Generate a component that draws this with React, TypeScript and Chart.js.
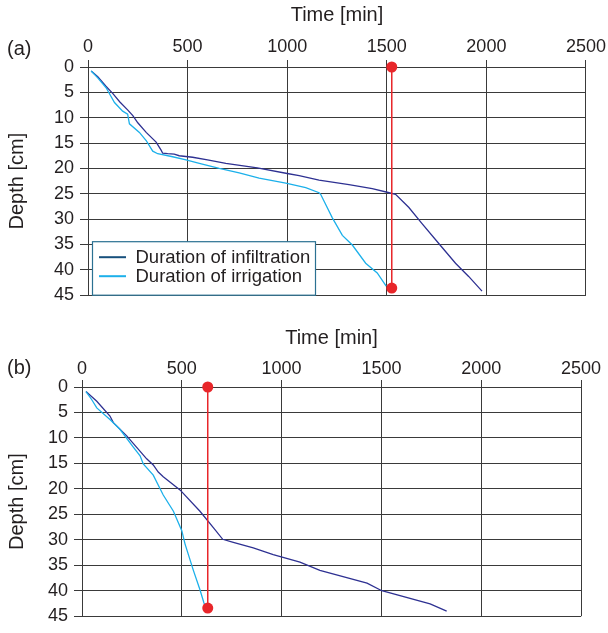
import React, { useEffect, useRef } from 'react';
import { Chart, registerables } from 'chart.js';

Chart.register(...registerables);

const FONT = "'Liberation Sans', Arial, Helvetica, sans-serif";
const TEXT = '#231f20';
const GRID = '#3a3a3a';
const C_INFIL = '#2e3192';
const C_IRRIG = '#1cb0ea';
const C_LEG_INFIL = '#17507c';
const C_RED = '#e8262a';

const X_MIN = 0;
const X_MAX = 2500;
const X_STEP = 500;
const Y_MIN = 0;
const Y_MAX = 45;
const Y_STEP = 5;

const seriesNames = ['Duration of infiltration', 'Duration of irrigation'];

// Panel (a)
const aInfilTime = [16, 49, 90, 124, 160, 200, 225, 250, 292, 342, 367, 375, 400, 433, 458, 525, 600, 692, 850, 1000, 1060, 1160, 1310, 1427, 1502, 1544, 1611, 1677, 1761, 1845, 1911, 1978];
const aInfilDepth = [0.8, 1.9, 3.8, 5.2, 6.9, 8.5, 9.6, 11, 12.9, 14.8, 16.4, 17, 17.1, 17.2, 17.5, 17.8, 18.3, 19, 19.9, 21.0, 21.4, 22.3, 23.2, 24, 24.7, 25.1, 27.7, 30.9, 34.8, 38.7, 41.3, 44.2];
const aIrrigTime = [16, 50, 91, 133, 174, 199, 208, 258, 292, 325, 350, 425, 492, 559, 659, 759, 859, 993, 1093, 1160, 1168, 1226, 1277, 1327, 1394, 1452, 1497];
const aIrrigDepth = [0.8, 2.2, 4.1, 7, 8.7, 9.3, 11.2, 12.9, 14.5, 16.6, 17.1, 17.7, 18.3, 19, 20, 20.9, 21.9, 22.9, 23.8, 24.8, 25.1, 29.7, 33.2, 35.1, 38.7, 40.6, 43.2];
const aMarkerTime = 1525;
const aMarkerDepths = [0, 43.6];

// Panel (b)
const bInfilTime = [20, 74, 140, 157, 224, 324, 357, 382, 407, 491, 591, 658, 705, 758, 858, 958, 1092, 1192, 1428, 1502, 1744, 1827];
const bInfilDepth = [0.9, 2.8, 5.7, 7, 9.6, 14.1, 15.3, 16.7, 17.6, 20.2, 24.4, 27.6, 29.9, 30.5, 31.6, 32.9, 34.4, 36.0, 38.5, 40, 42.6, 44];
const bIrrigTime = [20, 49, 74, 140, 190, 257, 291, 307, 357, 407, 458, 500, 516, 558, 591, 611, 624];
const bIrrigDepth = [0.9, 2.5, 4.1, 6.4, 8.3, 11.8, 13.5, 15.1, 17.3, 21.2, 24.4, 28.2, 30.8, 36, 39.8, 42.4, 43.4];
const bMarkerTime = 630;
const bMarkerDepths = [0, 43.4];

const zip = (xs: number[], ys: number[]) => xs.map((x, i) => ({ x, y: ys[i] }));

const panelLabelPlugin = {
  id: 'panelLabel',
  afterDraw(chart: any, _args: any, opts: any) {
    const ctx = chart.ctx;
    ctx.save();
    ctx.font = `20px ${FONT}`;
    ctx.fillStyle = TEXT;
    ctx.textAlign = 'left';
    ctx.textBaseline = 'middle';
    ctx.fillText(opts.text, opts.x, opts.y);
    ctx.restore();
  },
};

const boxLegendPlugin = {
  id: 'boxLegend',
  afterDraw(chart: any, _args: any, opts: any) {
    if (!opts.show) return;
    const ctx = chart.ctx;
    const area = chart.chartArea;
    const left = area.left + 4.5;
    const right = left + 223;
    const bottom = area.bottom;
    const top = bottom - 53.5;
    ctx.save();
    ctx.fillStyle = '#ffffff';
    ctx.fillRect(left, top, right - left, bottom - top);
    ctx.strokeStyle = '#2b7192';
    ctx.lineWidth = 1.2;
    ctx.strokeRect(left, top, right - left, bottom - top);
    const colors = [C_LEG_INFIL, C_IRRIG];
    const rows = [top + 15.5, top + 34.5];
    ctx.font = `18.5px ${FONT}`;
    ctx.textAlign = 'left';
    ctx.textBaseline = 'middle';
    seriesNames.forEach((name, i) => {
      ctx.strokeStyle = colors[i];
      ctx.lineWidth = 2;
      ctx.beginPath();
      ctx.moveTo(left + 6.5, rows[i]);
      ctx.lineTo(left + 33.5, rows[i]);
      ctx.stroke();
      ctx.fillStyle = TEXT;
      ctx.fillText(name, left + 43, rows[i] + 0.5);
    });
    ctx.restore();
  },
};

type PanelProps = {
  label: string;
  infilT: number[];
  infilD: number[];
  irrigT: number[];
  irrigD: number[];
  markerT: number;
  markerD: number[];
  legend: boolean;
  top: number;
  height: number;
  axisWidth: number;
  axisHeight: number;
  padRight: number;
  padBottom: number;
  labelY: number;
  titlePad: number;
  tickPad: number;
};

function Panel(p: PanelProps) {
  const ref = useRef<HTMLCanvasElement | null>(null);
  useEffect(() => {
    if (!ref.current) return;
    const chart = new Chart(ref.current, {
      type: 'scatter',
      data: {
        datasets: [
          {
            label: 'marker',
            data: p.markerD.map((d) => ({ x: p.markerT, y: d })),
            showLine: true,
            borderColor: C_RED,
            borderWidth: 1.5,
            pointRadius: 5.5,
            pointBackgroundColor: C_RED,
            pointBorderWidth: 0,
            clip: false,
            order: 0,
          },
          {
            label: seriesNames[0],
            data: zip(p.infilT, p.infilD),
            showLine: true,
            borderColor: C_INFIL,
            borderWidth: 1.3,
            pointRadius: 0,
            tension: 0,
            order: 2,
          },
          {
            label: seriesNames[1],
            data: zip(p.irrigT, p.irrigD),
            showLine: true,
            borderColor: C_IRRIG,
            borderWidth: 1.3,
            pointRadius: 0,
            tension: 0,
            order: 1,
          },
        ] as any,
      },
      options: {
        animation: false,
        responsive: false,
        maintainAspectRatio: false,
        events: [],
        layout: { padding: { left: 0, top: 0, right: p.padRight, bottom: p.padBottom } },
        plugins: {
          legend: { display: false },
          tooltip: { enabled: false },
          panelLabel: { text: p.label, x: 7, y: p.labelY },
          boxLegend: { show: p.legend },
        } as any,
        scales: {
          x: {
            type: 'linear',
            position: 'top',
            min: X_MIN,
            max: X_MAX,
            afterFit: (s: any) => {
              s.height = p.axisHeight;
            },
            ticks: {
              stepSize: X_STEP,
              color: TEXT,
              font: { family: FONT, size: 18 },
              padding: p.tickPad,
              maxRotation: 0,
              callback: (v: any) => String(v),
            },
            grid: { color: GRID, lineWidth: 1, tickLength: 7, drawTicks: true },
            border: { display: true, color: GRID, width: 1 },
            title: {
              display: true,
              text: 'Time [min]',
              color: TEXT,
              font: { family: FONT, size: 20 },
              padding: { top: p.titlePad, bottom: 0 },
            },
          },
          y: {
            type: 'linear',
            reverse: true,
            min: Y_MIN,
            max: Y_MAX,
            afterFit: (s: any) => {
              s.width = p.axisWidth;
            },
            ticks: {
              stepSize: Y_STEP,
              color: TEXT,
              font: { family: FONT, size: 18 },
              padding: 6,
              callback: (v: any) => String(v),
            },
            grid: { color: GRID, lineWidth: 1, tickLength: 8, drawTicks: true },
            border: { display: true, color: GRID, width: 1 },
            title: {
              display: true,
              text: 'Depth [cm]',
              color: TEXT,
              font: { family: FONT, size: 20 },
              padding: { top: 5, bottom: 0 },
            },
          },
        } as any,
      },
      plugins: [panelLabelPlugin, boxLegendPlugin],
    });
    return () => chart.destroy();
  }, []);
  return (
    <canvas
      ref={ref}
      width={608}
      height={p.height}
      style={{ position: 'absolute', left: 0, top: p.top, width: 608, height: p.height }}
    />
  );
}

export default function App() {
  return (
    <div style={{ position: 'fixed', left: 0, top: 0, width: 608, height: 633, background: '#ffffff', overflow: 'hidden' }}>
      <Panel
        label="(a)"
        infilT={aInfilTime}
        infilD={aInfilDepth}
        irrigT={aIrrigTime}
        irrigD={aIrrigDepth}
        markerT={aMarkerTime}
        markerD={aMarkerDepths}
        legend={true}
        top={0}
        height={312}
        axisWidth={88}
        axisHeight={67}
        padRight={21}
        padBottom={13}
        labelY={49}
        titlePad={3}
        tickPad={2}
      />
      <Panel
        label="(b)"
        infilT={bInfilTime}
        infilD={bInfilDepth}
        irrigT={bIrrigTime}
        irrigD={bIrrigDepth}
        markerT={bMarkerTime}
        markerD={bMarkerDepths}
        legend={false}
        top={312}
        height={321}
        axisWidth={82}
        axisHeight={75}
        padRight={27}
        padBottom={13}
        labelY={56}
        titlePad={14}
        tickPad={0}
      />
    </div>
  );
}
